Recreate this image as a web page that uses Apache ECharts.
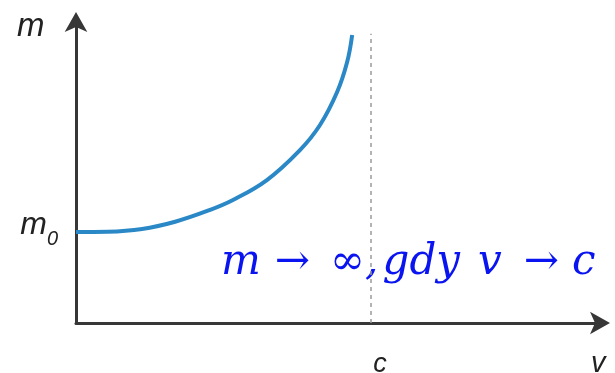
<!DOCTYPE html>
<html>
<head>
<meta charset="utf-8">
<script src="https://cdn.jsdelivr.net/npm/echarts@6/dist/echarts.min.js"></script>
<style>
  html, body { margin: 0; padding: 0; background: #fff; }
  #main { width: 615px; height: 373px; }
</style>
</head>
<body>
<div id="main"></div>
<script>
// v / c values
var vValues = [0, 0.108, 0.224, 0.336, 0.447, 0.532, 0.647, 0.759, 0.827, 0.885, 0.919, 0.936];
// m / m0 values
var mValues = [1.0, 1.003, 1.033, 1.113, 1.234, 1.352, 1.571, 1.90, 2.176, 2.538, 2.868, 3.165];
var xTickValues = [1]; // c
var yTickValues = [1]; // m0
var xMax = 1.776;
var yMax = 3.308;

var curve = vValues.map(function (v, i) { return [v, mValues[i]]; });

var myChart = echarts.init(document.getElementById('main'));
var axisColor = '#373737';
var labelFont = '"Liberation Sans", Arial, sans-serif';
var mathFont = '"DejaVu Serif", "Liberation Serif", serif';
var blue = '#0a14f0';

var option = {
  animation: false,
  grid: { left: 76, right: 15, top: 22, bottom: 50, containLabel: false, outerBoundsMode: 'none' },
  xAxis: {
    type: 'value',
    min: 0,
    max: xMax,
    splitLine: { show: false },
    axisTick: { show: false },
    axisLine: {
      lineStyle: { color: axisColor, width: 3 },
      symbol: ['none', 'arrow'],
      symbolSize: [17, 20],
      symbolOffset: [0, 10]
    },
    axisLabel: {
      customValues: xTickValues,
      formatter: function () { return 'c'; },
      margin: 28,
      padding: [0, 0, 0, 18],
      color: '#222',
      fontSize: 27,
      fontStyle: 'italic',
      fontFamily: labelFont
    }
  },
  yAxis: {
    type: 'value',
    min: 0,
    max: yMax,
    splitLine: { show: false },
    axisTick: { show: false },
    axisLine: {
      lineStyle: { color: axisColor, width: 3 },
      symbol: ['none', 'arrow'],
      symbolSize: [17, 20],
      symbolOffset: [0, 10]
    },
    axisLabel: {
      customValues: yTickValues,
      formatter: function () { return '{m|m}{s|0}'; },
      margin: 18,
      padding: [0, 0, 12, 0],
      rich: {
        m: { fontSize: 32, fontStyle: 'italic', fontFamily: labelFont, color: '#222', verticalAlign: 'bottom', lineHeight: 30 },
        s: { fontSize: 20, fontStyle: 'italic', fontFamily: labelFont, color: '#222', verticalAlign: 'bottom', lineHeight: 22, padding: [0, 0, -8, 0] }
      }
    }
  },
  graphic: [
    {
      type: 'text', left: 17, top: 10,
      style: { text: 'm', fontSize: 33, fontStyle: 'italic', fontFamily: labelFont, fill: '#222' }
    },
    {
      type: 'text', left: 591, top: 349,
      style: { text: 'v', fontSize: 29, fontStyle: 'italic', fontFamily: labelFont, fill: '#222' }
    },
    {
      type: 'text', left: 221, top: 242,
      style: {
        text: '{t|m}{a|\u2192}{t|\u221E,\u200Agdy}{s|v}{b|\u2192}{t|c}',
        rich: {
          t: { fontSize: 42, fontStyle: 'italic', fontFamily: mathFont, fill: blue },
          s: { fontSize: 42, fontStyle: 'italic', fontFamily: mathFont, fill: blue, padding: [0, 0, 0, 18] },
          a: { fontSize: 42, fontFamily: mathFont, fill: blue, padding: [0, 20, 0, 14] },
          b: { fontSize: 42, fontFamily: mathFont, fill: blue, padding: [0, 13, 0, 22] }
        }
      }
    }
  ],
  series: [
    {
      type: 'line',
      data: curve,
      smooth: 0.4,
      symbol: 'none',
      lineStyle: { color: '#2b88c6', width: 4 },
      markLine: {
        silent: true,
        symbol: 'none',
        label: { show: false },
        lineStyle: { color: '#9a9a9a', type: [4, 4], width: 1.5 },
        data: [[{ coord: [1, 0] }, { coord: [1, 3.18] }]]
      }
    }
  ]
};
myChart.setOption(option, true);
</script>
</body>
</html>
